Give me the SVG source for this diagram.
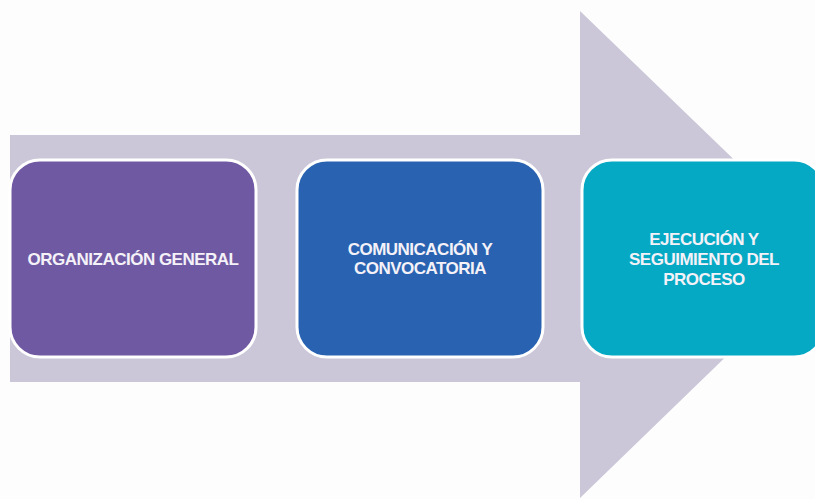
<svg xmlns="http://www.w3.org/2000/svg" width="815" height="499" viewBox="0 0 815 499">
  <style>
    .box { stroke: #ffffff; stroke-width: 3; }
    .lbl { font-family: "Liberation Sans", Arial, sans-serif; font-weight: bold; font-size: 17px; fill: #f4f2f8; text-anchor: middle; letter-spacing: -0.5px; }
  </style>
  <rect x="0" y="0" width="815" height="499" fill="#fdfdfd"/>
  <g id="connectors">
    <path id="big-arrow" d="M10,135 L580,135 L580,11 L832,254 L580,498 L580,382 L10,382 Z" fill="#cbc7d9"/>
  </g>
  <g id="node-organizacion">
    <rect class="box" x="10" y="160" width="246" height="197" rx="30" ry="30" fill="#7059a3"/>
    <text class="lbl" x="133" y="265">ORGANIZACIÓN GENERAL</text>
  </g>
  <g id="node-comunicacion">
    <rect class="box" x="297" y="160" width="246" height="197" rx="30" ry="30" fill="#2962b0"/>
    <text class="lbl" x="420" y="255">COMUNICACIÓN Y</text>
    <text class="lbl" x="420" y="274">CONVOCATORIA</text>
  </g>
  <g id="node-ejecucion">
    <rect class="box" x="582" y="160" width="242" height="197" rx="30" ry="30" fill="#06a9c4"/>
    <text class="lbl" x="704" y="245">EJECUCIÓN Y</text>
    <text class="lbl" x="704" y="265">SEGUIMIENTO DEL</text>
    <text class="lbl" x="704" y="285">PROCESO</text>
  </g>
</svg>
